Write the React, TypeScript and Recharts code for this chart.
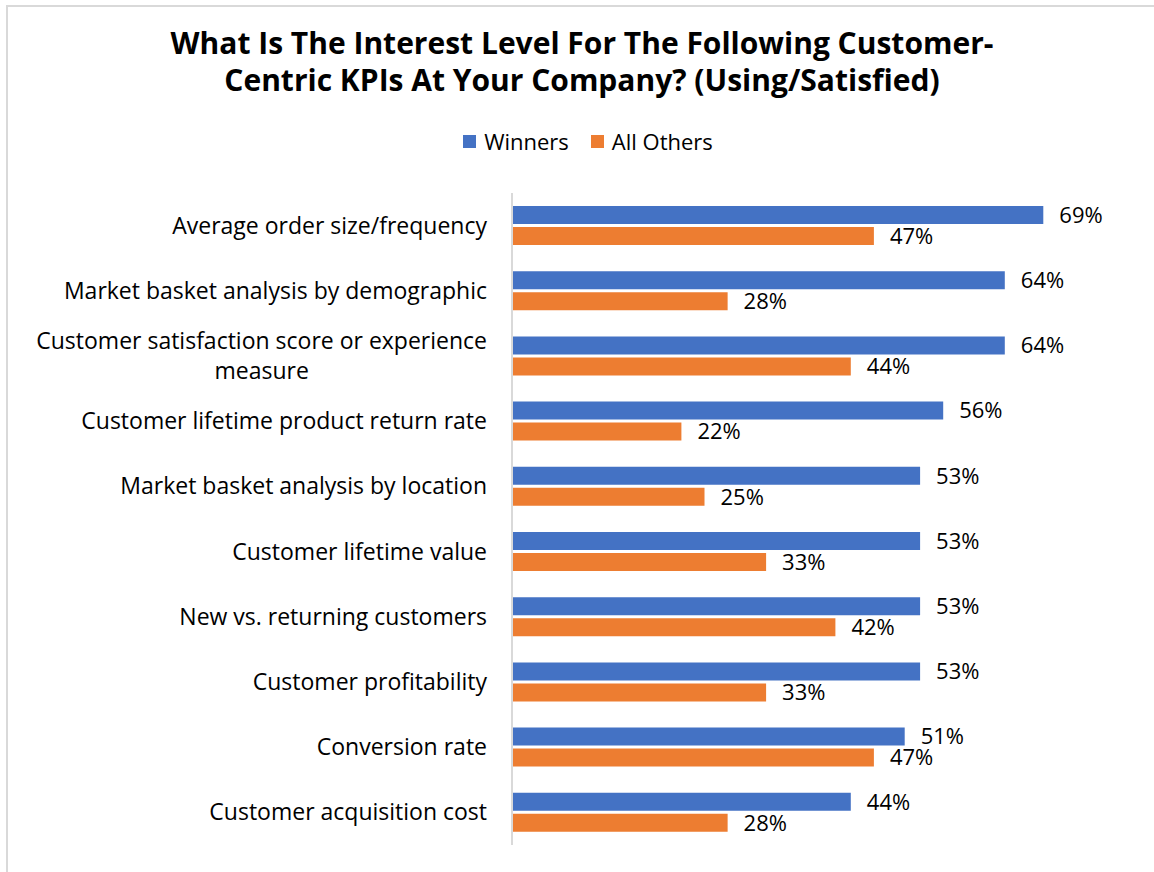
import React from "react";
import { BarChart, Bar, XAxis, YAxis, LabelList } from "recharts";

const CATEGORIES = [
  "Average order size/frequency",
  "Market basket analysis by demographic",
  "Customer satisfaction score or experience\nmeasure",
  "Customer lifetime product return rate",
  "Market basket analysis by location",
  "Customer lifetime value",
  "New vs. returning customers",
  "Customer profitability",
  "Conversion rate",
  "Customer acquisition cost",
];
const WINNERS = [69, 64, 64, 56, 53, 53, 53, 53, 51, 44];
const ALL_OTHERS = [47, 28, 44, 22, 25, 33, 42, 33, 47, 28];

const BLUE = "#4472C4";
const ORANGE = "#ED7D31";
const FONT = "'Open Sans', Lato, sans-serif";
const FS = 22;
const TICK_FS = 23;

const data = CATEGORIES.map((name, i) => ({
  name,
  winners: WINNERS[i],
  others: ALL_OTHERS[i],
}));

let ctx: CanvasRenderingContext2D | null = null;
function measure(text: string) {
  if (!ctx) ctx = document.createElement("canvas").getContext("2d");
  if (!ctx) return text.length * 10;
  ctx.font = `${TICK_FS}px ${FONT}`;
  return ctx.measureText(text).width;
}

function CategoryTick(props: any) {
  const { x, y, payload } = props;
  const lines = String(payload.value).split("\n");
  if (lines.length === 1) {
    return (
      <text x={x} y={y} dy={8} textAnchor="end" fontSize={TICK_FS} fontFamily={FONT} fill="#000">
        {lines[0]}
      </text>
    );
  }
  const w = measure(lines[0]);
  return (
    <g>
      <text x={x} y={y - 15} dy={8} textAnchor="end" fontSize={TICK_FS} fontFamily={FONT} fill="#000">
        {lines[0]}
      </text>
      <text x={x - w / 2} y={y + 15} dy={8} textAnchor="middle" fontSize={TICK_FS} fontFamily={FONT} fill="#000">
        {lines[1]}
      </text>
    </g>
  );
}

const LEGEND = [
  { label: "Winners", color: BLUE },
  { label: "All Others", color: ORANGE },
];

export default function App() {
  return (
    <div style={{ position: "relative", width: 1154, height: 872, overflow: "hidden", background: "#fff" }}>
      <style>{`body{margin:0}`}</style>
      <div
        style={{
          position: "absolute",
          left: 6,
          top: 5,
          width: 1200,
          height: 900,
          border: "2px solid #d9d9d9",
        }}
      />
      <div
        style={{
          position: "absolute",
          left: 0,
          top: 24,
          width: 1164,
          textAlign: "center",
          fontFamily: FONT,
          fontWeight: 700,
          fontSize: 30,
          lineHeight: "37px",
          color: "#000",
        }}
      >
        What Is The Interest Level For The Following Customer-
        <br />
        Centric KPIs At Your Company? (Using/Satisfied)
      </div>
      <div
        style={{
          position: "absolute",
          left: 0,
          top: 125,
          width: 1176,
          display: "flex",
          justifyContent: "center",
          gap: 22,
          fontFamily: FONT,
          fontSize: FS,
          lineHeight: "32px",
          color: "#000",
        }}
      >
        {LEGEND.map((it) => (
          <div key={it.label} style={{ display: "flex", alignItems: "center" }}>
            <span style={{ width: 13, height: 13, background: it.color, display: "inline-block", marginRight: 8 }} />
            <span>{it.label}</span>
          </div>
        ))}
      </div>
      <div style={{ position: "absolute", left: 0, top: 0 }}>
        <BarChart
          width={1154}
          height={872}
          data={data}
          layout="vertical"
          margin={{ top: 193, right: 26, bottom: 27, left: 0 }}
          barGap={3}
          barSize={18}
        >
          <XAxis type="number" domain={[0, 80]} hide />
          <YAxis
            type="category"
            dataKey="name"
            width={512}
            tickLine={false}
            tickSize={0}
            tickMargin={25}
            axisLine={{ stroke: "#d9d9d9", strokeWidth: 2 }}
            tick={<CategoryTick />}
            interval={0}
          />
          <Bar dataKey="winners" name="Winners" fill={BLUE} isAnimationActive={false}>
            <LabelList
              dataKey="winners"
              position="right"
              offset={16}
              formatter={(v: any) => `${v}%`}
              style={{ fontFamily: FONT, fontSize: FS, fill: "#000" }}
            />
          </Bar>
          <Bar dataKey="others" name="All Others" fill={ORANGE} isAnimationActive={false}>
            <LabelList
              dataKey="others"
              position="right"
              offset={16}
              formatter={(v: any) => `${v}%`}
              style={{ fontFamily: FONT, fontSize: FS, fill: "#000" }}
            />
          </Bar>
        </BarChart>
      </div>
    </div>
  );
}
